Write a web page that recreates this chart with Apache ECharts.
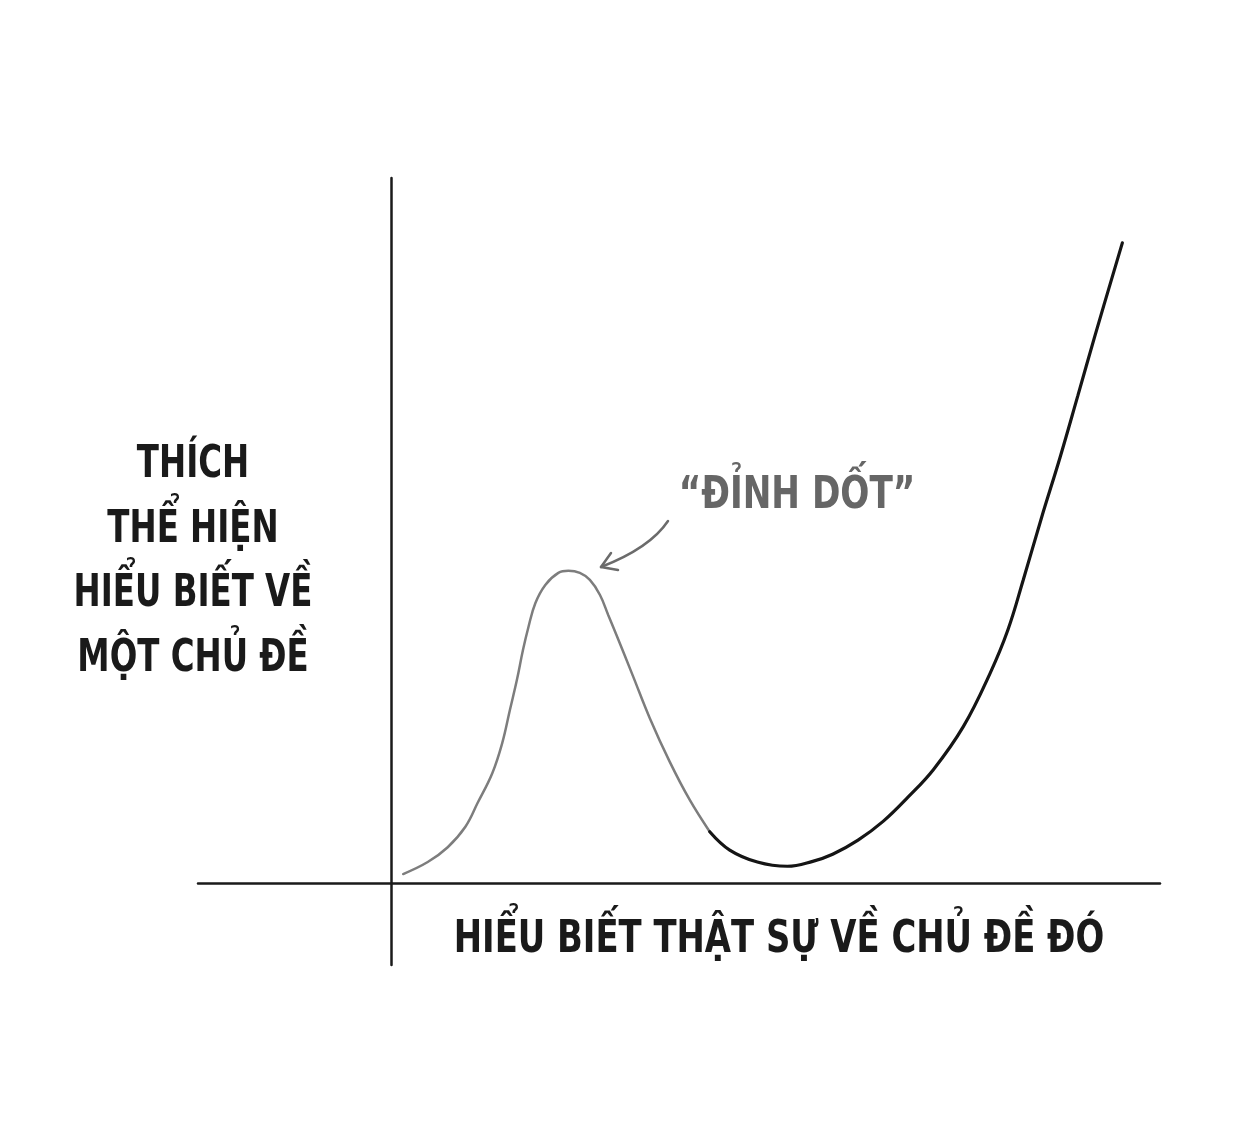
<!DOCTYPE html>
<html>
<head>
<meta charset="utf-8">
<script src="https://cdn.jsdelivr.net/npm/echarts@6/dist/echarts.min.js"></script>
<style>
html,body{margin:0;padding:0;background:#fff;}
#chart{width:1242px;height:1148px;}
</style>
</head>
<body>
<div id="chart"></div>
<script>
// Knowledge (x) and desire to show knowledge (y) — conceptual curve
const peakX = [1.5, 4.7, 7.3, 9.6, 11.2, 13.1, 14.4, 15.4, 16.3, 17.1, 17.8, 18.7, 20.0, 21.7, 23.0, 24.5, 25.8, 27.1, 28.2, 29.3, 31.4, 33.6, 36.2, 38.8, 41.4];
const peakY = [1.3, 3.0, 5.1, 8.0, 11.4, 15.6, 19.9, 24.6, 28.8, 33.1, 36.3, 39.7, 42.3, 44.0, 44.3, 44.0, 43.0, 40.9, 38.0, 35.1, 29.4, 23.4, 17.2, 11.8, 7.3];
const riseX = [41.4, 44.0, 47.6, 51.5, 54.8, 57.4, 60.7, 64.0, 67.2, 70.5, 74.4, 77.9, 80.2, 82.2, 84.6, 87.0, 89.3, 91.5, 95.1];
const riseY = [7.3, 4.7, 3.0, 2.4, 3.1, 4.1, 6.1, 8.8, 12.2, 16.1, 22.2, 29.8, 35.9, 43.0, 51.9, 60.4, 69.1, 77.5, 90.8];
const yTitleLines = ['THÍCH', 'THỂ HIỆN', 'HIỂU BIẾT VỀ', 'MỘT CHỦ ĐỀ'];
const xTitle = 'HIỂU BIẾT THẬT SỰ VỀ CHỦ ĐỀ ĐÓ';
const peakLabel = '“ĐỈNH DỐT”';

const zip = (xs, ys) => xs.map((x, i) => [x, ys[i]]);
const FONT = "'DejaVu Sans Condensed', 'DejaVu Sans', sans-serif";
const TEXT_FONT = 'bold 44px ' + FONT;

function label(text, x, y, color, sx) {
  return {
    type: 'text', z: 10, x: x, y: y, scaleX: sx,
    style: {text: text, font: TEXT_FONT, fill: color, textAlign: 'center', textVerticalAlign: 'middle'}
  };
}

const chart = echarts.init(document.getElementById('chart'), null, {renderer: 'canvas'});
const option = {
  backgroundColor: '#ffffff',
  animation: false,
  grid: {left: 198, right: 82, top: 178, bottom: 183},
  xAxis: {
    type: 'value', min: -25.2, max: 100,
    axisLine: {onZero: true, lineStyle: {color: '#1a1a1a', width: 2.5}},
    axisTick: {show: false}, axisLabel: {show: false}, splitLine: {show: false}
  },
  yAxis: {
    type: 'value', min: -11.6, max: 100,
    axisLine: {onZero: true, lineStyle: {color: '#1a1a1a', width: 2.5}},
    axisTick: {show: false}, axisLabel: {show: false}, splitLine: {show: false}
  },
  series: [
    {
      type: 'line', data: zip(peakX, peakY), smooth: 0.4, symbol: 'none',
      lineStyle: {color: '#7d7d7d', width: 2.5, cap: 'round'}
    },
    {
      type: 'line', data: zip(riseX, riseY), smooth: 0.4, symbol: 'none',
      lineStyle: {color: '#151515', width: 3.2, cap: 'round'}
    }
  ],
  graphic: [
    ...yTitleLines.map((t, i) => label(t, 193, 466 + i * 64.5, '#1a1a1a', 0.82)),
    label(xTitle, 779, 941, '#1a1a1a', 0.855),
    label(peakLabel, 797, 497, '#666666', 0.865),
    {
      type: 'bezierCurve', z: 10,
      shape: {x1: 668, y1: 521, x2: 601, y2: 567, cpx1: 650, cpy1: 548},
      style: {stroke: '#6b6b6b', lineWidth: 2.5, fill: null, lineCap: 'round'}
    },
    {
      type: 'polyline', z: 10,
      shape: {points: [[611, 553], [601, 567], [618, 570]]},
      style: {stroke: '#6b6b6b', lineWidth: 2.5, fill: null, lineCap: 'round', lineJoin: 'round'}
    }
  ]
};
chart.setOption(option);
</script>
</body>
</html>
